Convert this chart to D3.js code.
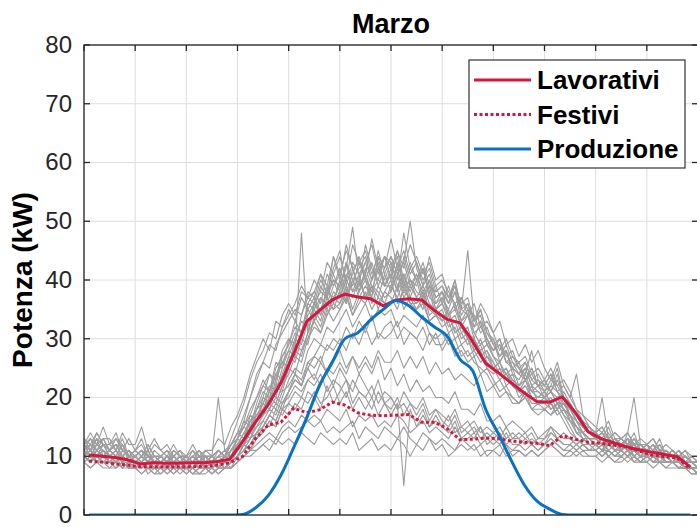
<!DOCTYPE html>
<html><head><meta charset="utf-8">
<script src="https://cdn.jsdelivr.net/npm/d3@7"></script>
<style>html,body{margin:0;padding:0;background:#fff;}svg{display:block;font-family:"Liberation Sans",Arial,Helvetica,sans-serif;}</style>
</head><body><svg id="c" width="697" height="527"></svg>
<script>
const chartTitle = "Marzo";
const yLabel = "Potenza (kW)";
const seriesNames = ["Lavorativi", "Festivi", "Produzione"];
const yTicks = [0, 10, 20, 30, 40, 50, 60, 70, 80];
const xTicks = [0, 2, 4, 6, 8, 10, 12, 14, 16, 18, 20, 22, 24];

// half-hour sample times for the mean profiles and production (hours)
const meanHours = [0.2,0.7,1.2,1.7,2.2,2.7,3.2,3.7,4.2,4.7,5.2,5.7,6.2,6.7,7.2,7.7,8.2,8.7,9.2,9.7,10.2,10.7,11.2,11.7,
  12.2,12.7,13.2,13.7,14.2,14.7,15.2,15.7,16.2,16.7,17.2,17.7,18.2,18.7,19.2,19.7,20.2,20.7,21.2,21.7,22.2,22.7,23.2,23.7];
const lavorativi = [10.2,10.0,9.8,9.4,8.7,8.9,8.8,8.8,8.9,8.9,9.1,9.5,12.5,15.8,18.8,22.5,27.5,32.9,34.8,36.6,37.6,37.1,36.8,35.6,
  36.6,36.8,36.6,34.8,33.3,32.7,29.5,25.8,24.2,22.5,20.8,19.3,19.2,20.1,17.5,14.2,13.0,12.3,11.6,11.1,10.7,10.3,9.9,8.2];
const festivi = [9.2,9.0,8.7,8.5,8.2,8.2,8.2,8.2,8.2,8.3,8.5,8.9,10.0,13.0,15.3,15.8,18.2,17.4,17.9,19.2,18.7,17.4,17.0,16.9,
  17.0,17.1,15.8,15.8,14.7,12.8,12.9,13.1,13.0,12.6,12.4,12.2,11.8,13.5,12.9,12.4,12.2,11.9,11.6,10.9,10.2,9.9,9.7,7.8];
const produzione = [0,0,0,0,0,0,0,0,0,0,0,0,0.1,1.2,3.3,6.8,11.5,16.5,22.0,26.0,30.0,31.0,33.2,35.0,
  36.5,35.6,33.7,32.0,30.4,26.5,24.5,18.0,13.8,9.3,5.2,2.4,1.0,0.1,0,0,0,0,0,0,0,0,0,0];

// quarter-hour daily load curves (kW), one per day of the month
const dayHours = d3.range(97).map(i => i * 0.25);
const days = [
 [12,11,13,10,11,10,12,9,10,9,11,9,9,10,8,9,10,9,8,10,9,10,9,11,12,13,16,17,19,22,21,25,28,27,31,35,33,37,36,39,41,37,40,38,42,39,37,41,38,43,39,40,37,39,36,35,36,33,34,31,32,28,30,27,26,24,25,23,22,24,21,20,21,19,20,18,17,15,14,13,13,12,14,12,11,13,12,11,12,10,11,10,10,9,10,9,8],
 [13,12,14,12,12,13,11,10,11,10,12,10,10,9,11,10,9,10,9,11,10,9,10,12,14,17,20,24,26,25,29,31,33,35,34,38,37,41,39,44,40,46,42,43,45,41,44,42,47,42,45,41,43,40,42,38,39,37,40,35,36,33,34,30,28,29,26,25,24,23,25,22,22,21,23,20,18,16,15,14,14,13,12,13,12,13,11,12,11,12,10,11,10,11,9,9,8],
 [10,9,11,10,9,10,8,9,8,9,8,7,8,7,8,9,8,7,8,8,7,8,8,9,10,11,13,15,16,18,17,20,23,25,24,28,30,29,32,31,33,35,32,34,36,33,35,34,35,32,34,33,32,34,31,30,31,29,30,27,28,26,25,24,22,23,21,20,19,21,18,18,18,17,19,17,15,13,12,12,11,12,10,11,10,11,10,9,10,9,10,9,9,8,8,8,7],
 [11,13,12,15,12,11,13,10,11,12,10,9,10,11,9,10,9,10,11,9,10,11,10,12,13,15,14,18,20,19,23,26,25,30,33,32,36,34,38,37,39,43,38,41,37,40,43,39,41,38,44,40,39,42,37,36,38,34,36,33,34,31,29,30,27,26,28,24,23,25,22,21,20,22,21,19,18,16,14,15,13,14,12,13,12,11,13,11,11,12,10,10,11,10,9,10,9],
 [10,11,10,12,10,9,11,10,9,10,9,8,9,8,10,9,8,9,8,9,9,8,10,9,11,12,15,16,18,21,20,24,27,26,30,29,34,32,36,35,38,36,40,37,39,37,36,38,40,36,38,37,36,38,35,34,35,32,33,30,31,29,27,28,25,24,23,24,21,22,20,19,20,18,19,18,16,14,13,12,12,11,13,11,11,12,10,11,10,11,9,10,9,10,8,8,7],
 [12,11,12,13,11,12,10,11,10,11,10,9,9,10,9,10,10,9,10,9,9,10,11,10,13,16,20,23,26,29,28,32,34,36,39,37,40,38,43,41,44,40,46,43,41,47,42,44,43,40,48,42,44,41,43,39,40,38,36,37,35,34,31,32,29,27,28,25,24,26,23,22,23,21,20,21,19,17,15,14,13,14,13,12,12,13,12,11,12,11,10,11,10,9,10,9,8],
 [11,10,12,11,10,11,9,10,9,10,9,10,10,9,8,9,9,8,9,10,8,9,9,11,12,14,13,16,19,18,22,23,26,29,28,31,35,33,37,35,36,39,35,38,40,36,39,37,38,41,37,39,37,35,38,34,33,35,31,32,30,28,29,26,25,26,23,22,21,20,22,19,19,20,18,19,17,14,14,12,12,13,11,12,11,12,11,10,11,10,11,9,9,10,9,8,8],
 [12,14,12,13,13,11,14,12,12,15,11,13,11,12,10,11,10,11,9,10,10,11,10,11,13,12,15,17,18,20,19,22,24,27,26,30,32,31,35,33,35,38,34,37,36,39,35,38,37,35,39,36,35,37,33,34,32,33,30,31,29,30,27,28,26,24,25,22,21,23,20,20,21,19,18,20,16,15,13,13,12,13,12,11,12,11,12,10,11,10,11,10,10,9,9,8,8],
 [9,10,9,10,9,8,9,8,8,9,7,8,8,7,8,8,7,8,7,8,8,7,8,9,10,12,11,14,15,17,16,19,21,23,22,26,27,29,28,30,29,32,30,33,31,34,30,32,33,30,32,31,30,32,29,31,28,30,27,28,26,27,24,25,23,21,22,20,19,20,18,17,18,17,18,16,14,13,12,11,11,10,11,10,10,11,9,10,9,10,9,9,9,8,8,7,7],
 [11,12,11,10,11,10,10,11,9,10,11,9,10,9,10,9,9,10,9,10,10,9,10,11,13,16,15,19,22,21,25,27,29,32,31,36,38,36,41,39,42,38,41,44,40,43,39,42,44,41,43,39,41,38,40,37,38,36,39,34,36,32,33,29,28,30,26,27,25,24,28,23,22,24,21,20,19,16,15,15,14,20,13,12,13,12,12,11,11,12,10,11,10,10,9,9,8],
 [10,11,10,11,10,9,10,9,9,8,9,9,8,9,9,8,9,8,9,8,9,8,9,10,11,13,14,16,17,20,19,22,25,24,28,30,33,31,34,36,35,37,34,36,38,35,37,36,36,39,35,37,35,36,33,34,34,31,32,29,30,27,28,25,24,25,22,23,20,21,19,19,19,18,19,17,16,14,13,12,12,11,12,11,11,10,11,10,10,10,9,10,9,9,8,8,7],
 [12,11,13,12,11,12,11,10,10,11,10,10,9,10,10,9,10,9,10,10,9,10,10,12,14,15,18,20,22,24,23,28,30,29,34,37,36,40,38,42,45,39,43,41,43,46,41,44,42,45,40,43,40,43,39,38,39,36,38,35,34,32,35,31,30,27,29,26,25,23,24,22,21,23,22,20,18,17,15,14,14,12,13,12,12,13,11,12,11,10,12,10,10,9,10,9,9],
 [11,10,11,12,10,11,10,9,10,9,10,9,9,10,9,9,9,10,9,9,10,9,9,10,12,13,16,18,19,21,24,23,27,30,29,33,35,37,35,38,37,40,38,39,41,38,40,39,39,42,38,40,38,37,39,35,36,34,35,32,31,30,28,29,27,25,24,25,22,23,21,21,20,21,19,19,17,15,14,13,13,12,13,12,12,11,11,12,11,10,10,11,10,9,9,9,8],
 [10,12,11,10,11,10,9,10,9,10,9,8,9,8,9,10,8,9,8,9,9,9,10,10,11,13,15,17,18,20,22,21,25,28,27,31,33,35,34,37,36,38,37,40,37,39,38,36,39,37,40,36,36,38,34,35,33,34,31,32,30,29,27,26,25,23,24,22,21,22,20,20,20,19,20,18,17,15,14,13,13,12,12,13,11,14,20,12,11,10,11,10,10,9,9,8,8],
 [13,11,14,12,12,14,11,13,11,13,10,12,11,10,12,10,10,12,10,11,11,13,12,15,17,20,24,27,30,28,33,32,35,33,37,35,37,34,39,36,40,36,42,38,41,37,44,39,42,38,41,37,40,36,39,35,37,34,36,32,34,30,33,29,30,26,28,25,26,23,25,22,23,21,24,20,19,17,16,14,14,13,15,12,13,12,14,11,12,11,13,10,11,10,11,9,9],
 [11,10,12,11,10,11,10,9,10,9,10,10,9,10,9,10,10,9,10,9,10,11,10,12,13,15,17,20,23,21,26,25,30,28,48,31,36,38,37,40,39,42,49,40,43,40,45,41,44,41,43,50,42,39,41,37,38,36,40,35,45,33,35,31,29,30,27,28,25,26,23,24,22,24,21,22,20,18,16,15,14,15,13,14,13,12,13,12,12,13,11,11,10,11,10,9,9],
 [10,11,9,10,9,10,9,9,9,8,9,8,8,9,8,9,8,9,8,8,9,8,9,10,11,12,14,13,15,17,19,18,21,24,22,25,27,26,29,28,30,28,31,29,32,29,31,30,31,33,29,31,30,28,31,29,29,31,28,29,27,28,26,27,25,26,24,23,22,23,21,22,20,21,19,20,17,16,14,13,12,13,12,11,11,12,10,11,10,11,10,9,9,10,9,8,8],
 [11,12,10,12,11,10,12,10,10,11,9,11,10,9,11,10,9,11,10,10,10,20,11,12,14,13,17,16,20,24,22,27,29,33,31,36,35,39,37,41,38,43,40,42,44,40,42,39,41,44,39,42,40,42,38,39,36,39,35,37,34,36,32,33,31,28,30,27,26,27,24,25,23,25,22,23,21,18,17,15,14,15,13,14,13,14,12,12,12,11,12,10,11,10,10,9,9],
 [12,10,11,13,11,12,10,11,10,11,10,9,10,9,10,11,9,10,9,10,9,10,11,10,12,14,16,18,21,20,24,26,28,31,30,34,36,35,38,40,37,41,39,43,40,38,42,40,43,39,41,38,41,37,40,36,37,35,38,33,35,31,32,30,28,29,26,26,24,25,22,23,21,22,25,20,18,17,15,14,13,14,12,13,12,13,11,12,11,12,10,10,10,9,10,9,8],
 [10,9,10,11,9,10,9,8,9,8,9,8,8,9,8,8,8,8,9,8,8,9,8,9,10,11,12,14,14,16,15,18,19,21,20,23,24,22,25,24,26,24,27,25,27,25,28,26,26,28,25,27,25,27,24,26,24,25,23,24,23,22,24,21,22,20,21,19,19,20,18,19,18,19,17,18,16,15,14,13,12,13,12,11,11,12,11,10,10,11,10,10,9,10,9,8,8],
 [12,13,11,12,11,13,12,10,11,10,12,10,10,11,10,9,10,9,11,10,9,11,10,13,16,19,23,26,28,31,30,34,36,34,38,37,38,41,37,44,41,45,42,39,46,42,40,44,40,45,42,46,43,39,44,40,41,37,39,36,37,33,36,34,31,33,29,30,27,29,26,28,25,23,26,22,20,24,17,16,15,14,16,13,13,14,12,13,12,13,11,12,11,10,11,10,9],
 [10,9,10,9,9,10,9,8,9,8,9,8,8,9,8,8,8,9,8,9,9,8,9,8,10,11,12,14,15,17,16,19,20,22,21,23,22,24,21,23,22,20,23,21,20,22,19,21,20,18,21,19,18,20,17,18,17,16,18,15,16,14,15,13,14,15,13,14,13,14,12,13,13,15,14,13,13,12,13,12,12,11,12,11,11,12,10,11,10,11,10,10,9,10,9,8,8],
 [9,8,9,8,8,9,8,8,8,7,8,7,7,8,7,8,7,8,7,7,8,7,8,8,9,10,10,11,12,11,13,12,13,12,14,13,12,14,13,12,13,12,14,11,12,13,11,12,11,13,12,10,12,11,13,11,12,10,11,12,11,12,10,11,11,10,12,10,11,10,11,10,11,12,11,10,11,10,11,10,10,11,10,9,10,9,10,9,9,10,9,8,9,8,8,8,7],
 [10,9,10,10,9,9,8,9,8,9,8,8,9,8,8,9,8,8,9,8,8,9,8,9,10,12,13,14,16,15,18,17,19,18,20,19,21,19,20,22,19,21,18,20,18,20,17,19,17,19,5,18,15,17,15,16,15,17,14,15,14,13,15,12,13,12,14,12,12,13,12,11,12,14,13,12,12,11,12,11,11,12,11,10,11,10,11,10,10,9,10,9,9,9,8,8,7],
 [9,10,9,9,9,8,9,8,8,8,9,8,8,8,7,8,8,7,8,8,7,8,8,8,9,10,11,12,13,14,13,15,16,15,17,16,17,16,18,17,16,18,15,17,16,17,15,16,15,17,16,14,15,16,14,15,14,13,15,13,13,14,12,13,12,13,12,11,12,11,12,11,12,13,12,11,11,12,11,11,11,10,11,10,10,11,10,9,10,9,9,9,9,8,9,8,7],
 [11,10,11,10,10,9,10,9,9,10,9,9,9,8,9,9,9,9,8,9,9,8,9,10,11,13,14,16,17,19,18,21,22,24,23,26,25,27,24,26,28,25,27,24,26,24,27,23,25,22,24,21,23,21,22,20,20,19,21,18,18,17,19,16,16,17,15,16,15,14,15,13,14,15,13,14,13,12,13,12,12,11,12,11,11,12,11,10,10,11,10,10,10,9,9,8,8],
 [9,8,9,9,8,8,9,8,8,7,8,8,7,8,8,7,8,7,7,8,7,8,8,8,9,10,11,11,12,13,12,14,15,14,15,16,15,16,14,15,14,15,16,13,15,14,13,15,14,13,15,13,12,14,13,12,13,12,11,13,12,11,12,10,11,12,10,11,11,10,11,10,11,12,11,10,10,11,10,10,10,9,10,9,9,10,9,9,9,8,9,8,8,8,8,7,7],
 [10,9,10,9,9,9,8,9,8,9,8,8,8,8,9,8,8,9,8,8,8,9,9,9,10,12,11,13,14,16,15,18,17,19,18,21,20,18,22,19,21,23,19,21,20,18,21,19,18,20,17,19,17,19,16,18,16,15,17,14,15,16,14,15,14,13,15,13,14,13,14,12,13,14,13,12,12,13,12,11,12,11,11,10,11,10,11,10,10,9,9,9,9,8,8,8,7],
 [10,11,10,9,10,9,10,9,9,9,8,9,9,8,9,8,8,9,9,8,9,8,9,10,11,12,14,15,17,18,20,19,21,23,22,25,23,26,24,22,25,23,21,24,22,20,23,19,20,18,19,17,16,18,15,17,15,14,16,13,14,15,13,14,13,14,12,13,13,12,13,12,12,13,12,11,12,11,12,11,11,10,11,10,10,11,10,9,10,9,10,9,9,9,8,8,8]
];

const W = 697, H = 527;
const m = {left: 84, right: 698, top: 45, bottom: 515};
const svg = d3.select("#c");
const x = d3.scaleLinear().domain([0, 24]).range([m.left, m.right]);
const y = d3.scaleLinear().domain([0, 80]).range([m.bottom, m.top]);

svg.append("defs").append("clipPath").attr("id", "clip")
  .append("rect").attr("x", m.left).attr("y", m.top).attr("width", m.right - m.left).attr("height", m.bottom - m.top);

// grid
const grid = svg.append("g");
grid.selectAll(".gx").data(xTicks).join("line")
  .attr("x1", d => x(d)).attr("x2", d => x(d)).attr("y1", m.top).attr("y2", m.bottom)
  .attr("stroke", "#dedede").attr("stroke-width", 1);
grid.selectAll(".gy").data(yTicks).join("line")
  .attr("x1", m.left).attr("x2", m.right).attr("y1", d => y(d)).attr("y2", d => y(d))
  .attr("stroke", "#dedede").attr("stroke-width", 1);

const plot = svg.append("g").attr("clip-path", "url(#clip)");
const dayLine = d3.line().x((d, i) => x(dayHours[i])).y(d => y(d));
plot.selectAll(".day").data(days).join("path")
  .attr("d", dayLine).attr("fill", "none").attr("stroke", "#9d9d9d").attr("stroke-width", 1.1).attr("stroke-linejoin", "round");

const meanLine = d3.line().x((d, i) => x(meanHours[i])).y(d => y(d));
const red = "#d4173d", blue = "#0a72c4";
plot.append("path").attr("d", meanLine(lavorativi)).attr("fill", "none").attr("stroke", red).attr("stroke-width", 3).attr("stroke-linejoin", "round");
plot.append("path").attr("d", meanLine(festivi)).attr("fill", "none").attr("stroke", red).attr("stroke-width", 3).attr("stroke-dasharray", "3,2.5");
plot.append("path").attr("d", meanLine.curve(d3.curveMonotoneX)(produzione)).attr("fill", "none").attr("stroke", blue).attr("stroke-width", 3).attr("stroke-linejoin", "round");

// axes box and ticks
const axCol = "#262626";
svg.append("rect").attr("x", m.left).attr("y", m.top).attr("width", m.right - m.left).attr("height", m.bottom - m.top)
  .attr("fill", "none").attr("stroke", axCol).attr("stroke-width", 1.3);
const ax = svg.append("g").attr("stroke", axCol).attr("stroke-width", 1.3);
xTicks.forEach(t => {
  ax.append("line").attr("x1", x(t)).attr("x2", x(t)).attr("y1", m.bottom).attr("y2", m.bottom - 6);
  ax.append("line").attr("x1", x(t)).attr("x2", x(t)).attr("y1", m.top).attr("y2", m.top + 6);
});
yTicks.forEach(t => {
  ax.append("line").attr("x1", m.left).attr("x2", m.left + 6).attr("y1", y(t)).attr("y2", y(t));
  ax.append("line").attr("x1", m.right).attr("x2", m.right - 6).attr("y1", y(t)).attr("y2", y(t));
});
svg.append("g").selectAll("text").data(yTicks).join("text")
  .attr("x", m.left - 12).attr("y", d => y(d)).attr("dy", "0.33em").attr("text-anchor", "end")
  .attr("font-size", 24).attr("fill", "#262626").text(d => d);

svg.append("text").attr("x", (m.left + m.right) / 2).attr("y", 33).attr("text-anchor", "middle")
  .attr("font-size", 27).attr("font-weight", "bold").attr("fill", "#000").text(chartTitle);
svg.append("text").attr("transform", `translate(32,${(m.top + m.bottom) / 2}) rotate(-90)`).attr("text-anchor", "middle")
  .attr("font-size", 28).attr("font-weight", "bold").attr("fill", "#000").text(yLabel);

// legend
const lg = svg.append("g");
lg.append("rect").attr("x", 469).attr("y", 60).attr("width", 216).attr("height", 108)
  .attr("fill", "#fff").attr("stroke", "#333").attr("stroke-width", 1.2);
const lgStyles = [{c: red, dash: null}, {c: red, dash: "3,2.5"}, {c: blue, dash: null}];
seriesNames.forEach((n, i) => {
  const yy = 80 + i * 34.5;
  lg.append("line").attr("x1", 474).attr("x2", 531).attr("y1", yy).attr("y2", yy)
    .attr("stroke", lgStyles[i].c).attr("stroke-width", 3).attr("stroke-dasharray", lgStyles[i].dash);
  lg.append("text").attr("x", 537).attr("y", yy).attr("dy", "0.36em").attr("font-size", 26)
    .attr("font-weight", "bold").attr("fill", "#000").text(n);
});
</script></body></html>
